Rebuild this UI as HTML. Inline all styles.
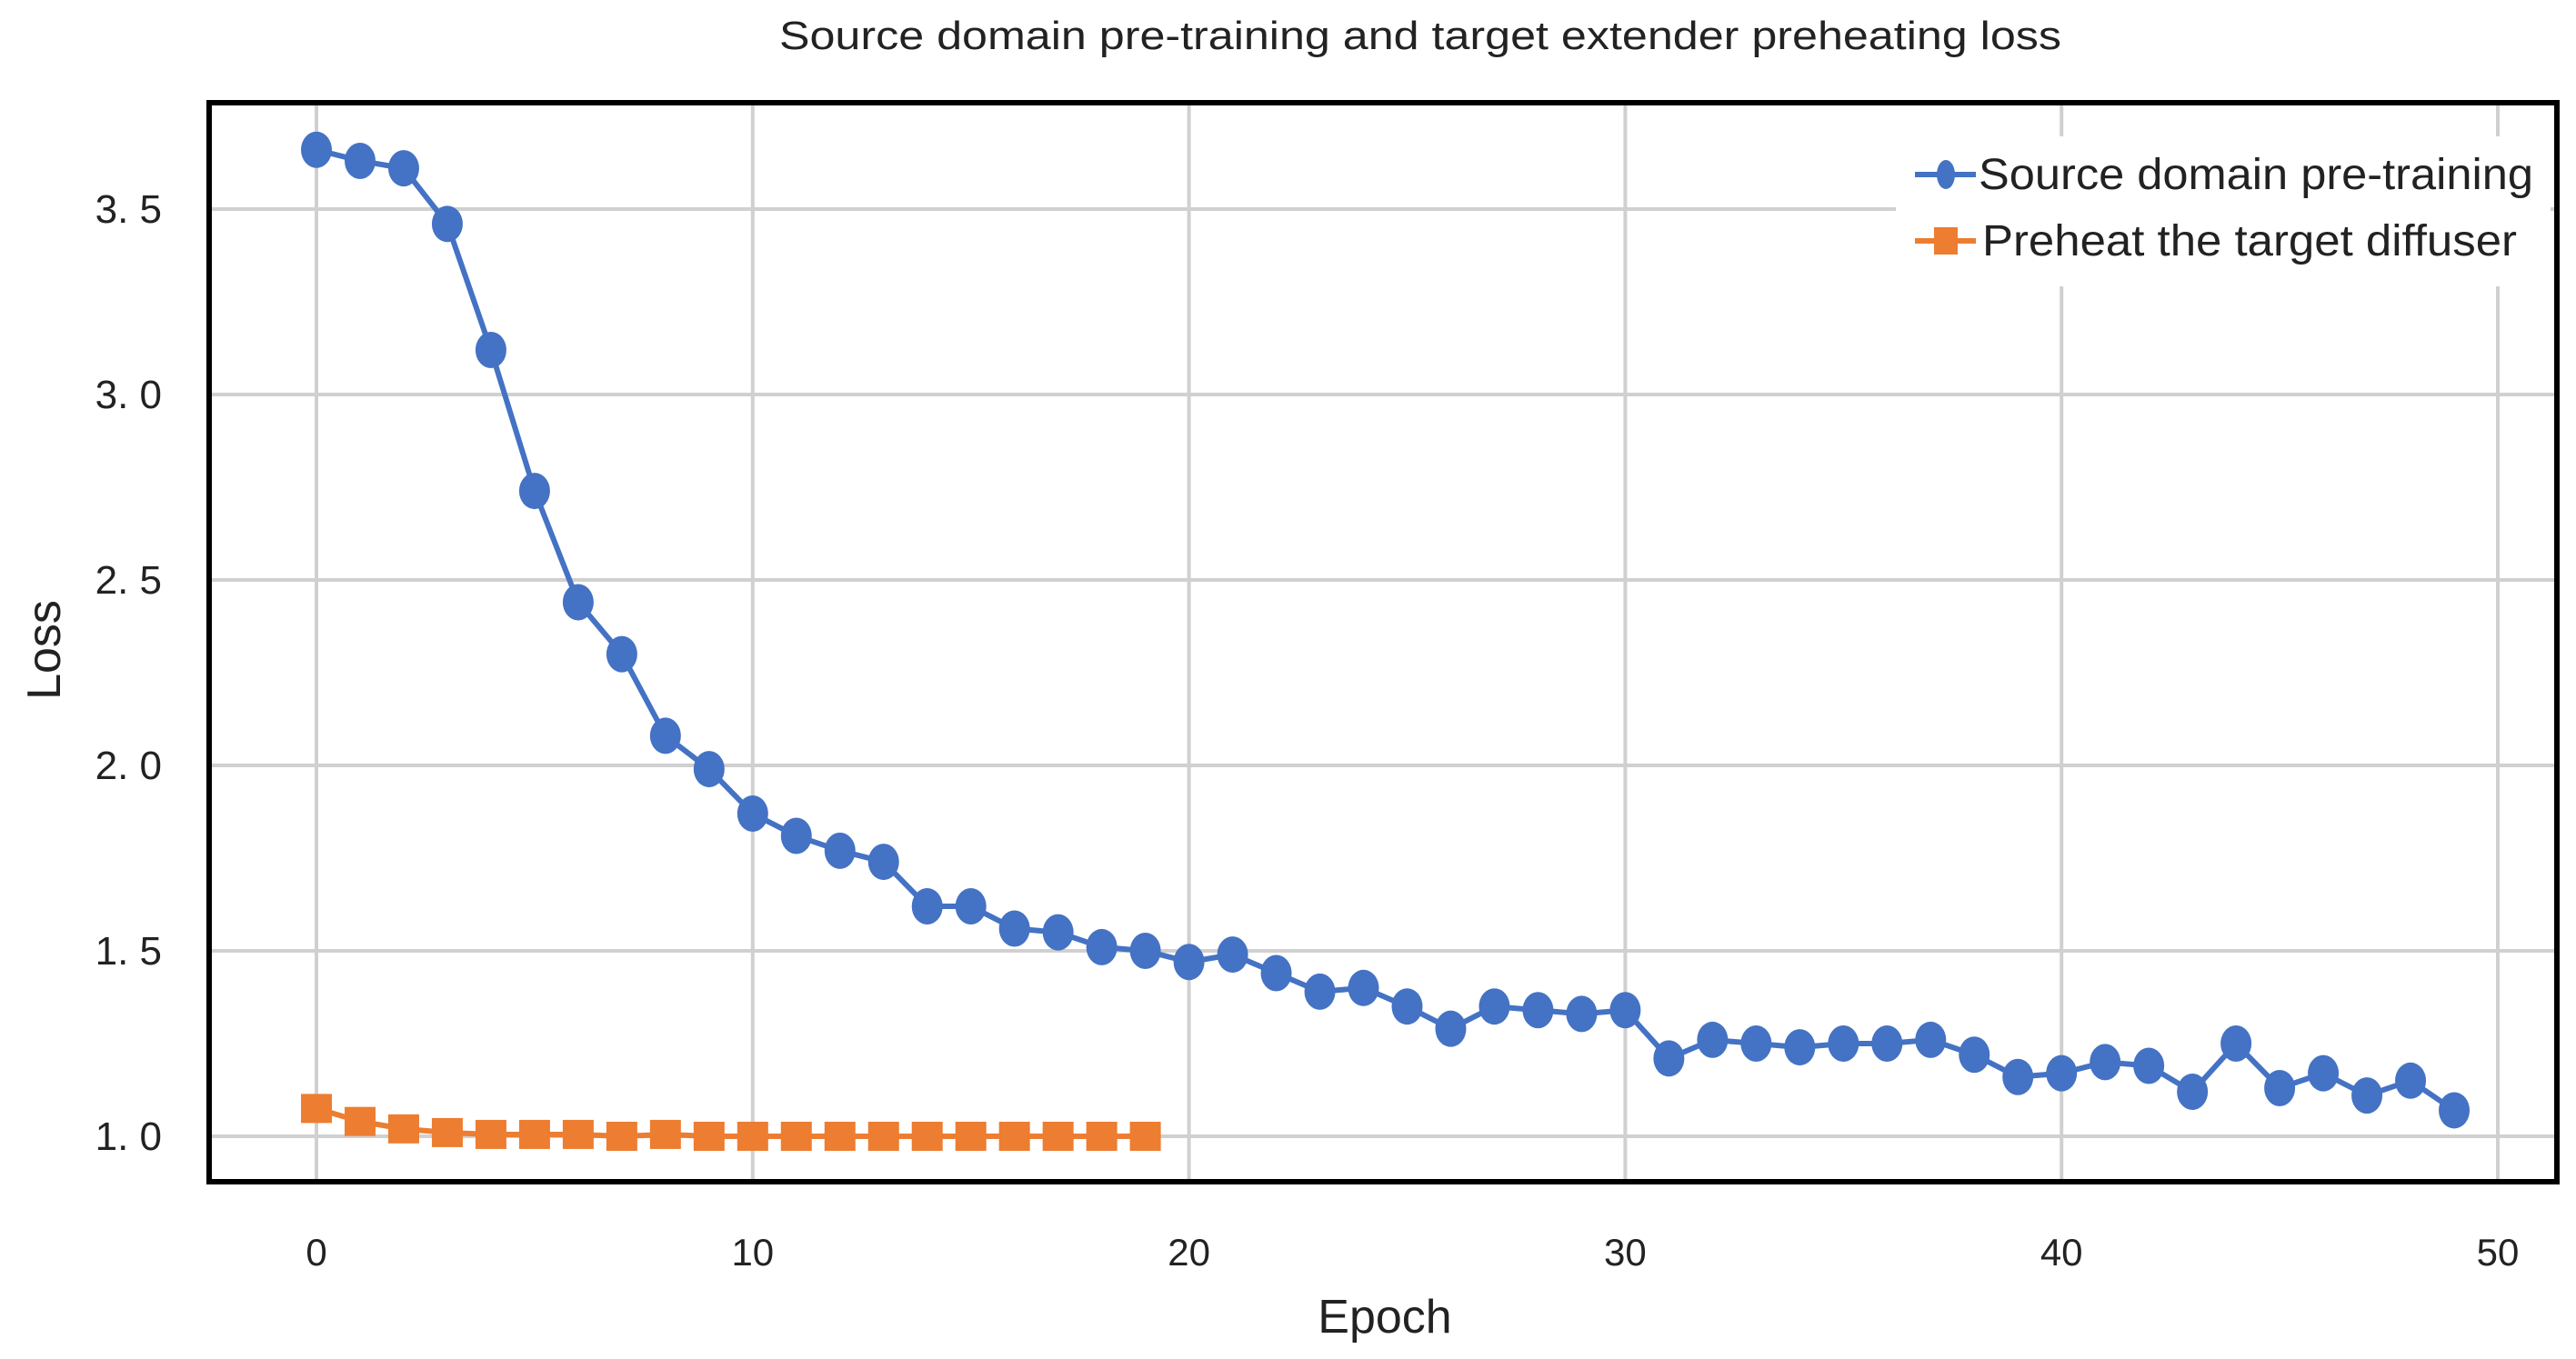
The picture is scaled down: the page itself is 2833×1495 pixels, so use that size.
<!DOCTYPE html>
<html><head><meta charset="utf-8"><style>
html,body{margin:0;padding:0;background:#fff;}
svg{display:block;font-family:"Liberation Sans","Noto Sans CJK JP",sans-serif;}
</style></head><body>
<svg id="chart" width="2833" height="1495" viewBox="0 0 2833 1495">
<text x="1562" y="54" font-size="44" text-anchor="middle" fill="#222" textLength="1410" lengthAdjust="spacingAndGlyphs">Source domain pre-training and target extender preheating loss</text>
<g id="grid"></g>
<g id="series"></g>
<rect x="230" y="113" width="2582" height="1187" fill="none" stroke="#000" stroke-width="6"/>
<g id="ticks"></g>
<text x="1523" y="1466" font-size="52" text-anchor="middle" fill="#222">Epoch</text>
<text x="0" y="0" font-size="52" text-anchor="middle" fill="#222" transform="translate(66,715) rotate(-90)">Loss</text>
<g>
<rect x="2085" y="150" width="720" height="165" fill="#fff"/>
<g>
<line x1="2106" y1="192" x2="2173" y2="192" stroke="#4472c4" stroke-width="6"/>
<ellipse cx="2140" cy="192" rx="10" ry="16" fill="#4472c4"/>
<text x="2176" y="208" font-size="48" fill="#222" textLength="610" lengthAdjust="spacingAndGlyphs">Source domain pre-training</text>
</g>
<g>
<line x1="2106" y1="265" x2="2173" y2="265" stroke="#ed7d31" stroke-width="6"/>
<rect x="2127" y="250" width="26" height="30" fill="#ed7d31"/>
<text x="2180" y="281" font-size="48" fill="#222" textLength="588" lengthAdjust="spacingAndGlyphs">Preheat the target diffuser</text>
</g>
</g>
</svg>
<script>
const epochsSource = [];
for (let i = 0; i < 50; i++) epochsSource.push(i);
const lossSource = [3.66,3.63,3.61,3.46,3.12,2.74,2.44,2.30,2.08,1.99,1.87,1.81,1.77,1.74,1.62,1.62,1.56,1.55,1.51,1.50,1.47,1.49,1.44,1.39,1.40,1.35,1.29,1.35,1.34,1.33,1.34,1.21,1.26,1.25,1.24,1.25,1.25,1.26,1.22,1.16,1.17,1.20,1.19,1.12,1.25,1.13,1.17,1.11,1.15,1.07];
const epochsPreheat = [0,1,2,3,4,5,6,7,8,9,10,11,12,13,14,15,16,17,18,19];
const lossPreheat = [1.075,1.04,1.02,1.01,1.005,1.005,1.005,1.0,1.005,1.0,1.0,1.0,1.0,1.0,1.0,1.0,1.0,1.0,1.0,1.0];
const xTicks = [0,10,20,30,40,50];
const yTicks = [1.0,1.5,2.0,2.5,3.0,3.5];
const yTickLabels = ["1. 0","1. 5","2. 0","2. 5","3. 0","3. 5"];

const NS = "http://www.w3.org/2000/svg";
function xs(e){ return 348 + (e/50)*(2747-348); }
function ys(v){ return 1250 - (v-1.0)/2.5*(1250-230); }
function mk(tag, attrs, parent){
  const el = document.createElementNS(NS, tag);
  for (const k in attrs) el.setAttribute(k, attrs[k]);
  parent.appendChild(el);
  return el;
}
const grid = document.getElementById('grid');
const ticks = document.getElementById('ticks');
const series = document.getElementById('series');

xTicks.forEach(t => {
  const l = mk('line', {x1:xs(t), x2:xs(t), y1:113, y2:1300, stroke:'#d0d0d0', 'stroke-width':4}, grid);
  
  
  const tx = mk('text', {x:xs(t), y:1392, 'font-size':42, 'text-anchor':'middle', fill:'#222'}, ticks);
  tx.textContent = t;
  
  
});
yTicks.forEach((t, i) => {
  const l = mk('line', {x1:230, x2:2812, y1:ys(t), y2:ys(t), stroke:'#d0d0d0', 'stroke-width':4}, grid);
  
  
  const tx = mk('text', {x:178, y:ys(t)+15, 'font-size':44, 'text-anchor':'end', fill:'#222'}, ticks);
  tx.textContent = yTickLabels[i];
  
  
});

const pts1 = epochsSource.map((e,i) => xs(e)+','+ys(lossSource[i])).join(' ');
const line1 = mk('polyline', {points:pts1, fill:'none', stroke:'#4472c4', 'stroke-width':6, 'stroke-linejoin':'round'}, series);


epochsSource.forEach((e,i) => {
  const c = mk('ellipse', {cx:xs(e), cy:ys(lossSource[i]), rx:17, ry:20, fill:'#4472c4'}, series);
  
  
});

const pts2 = epochsPreheat.map((e,i) => xs(e)+','+ys(lossPreheat[i])).join(' ');
const line2 = mk('polyline', {points:pts2, fill:'none', stroke:'#ed7d31', 'stroke-width':6}, series);


epochsPreheat.forEach((e,i) => {
  const r = mk('rect', {x:xs(e)-17, y:ys(lossPreheat[i])-16, width:34, height:32, fill:'#ed7d31'}, series);
  
  
});
</script>
</body></html>
